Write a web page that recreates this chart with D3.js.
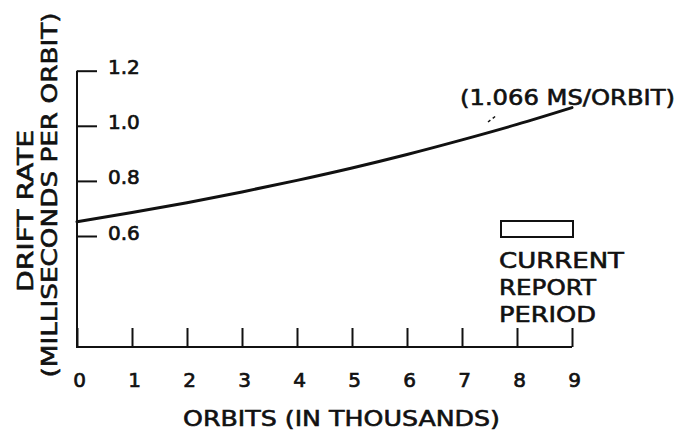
<!DOCTYPE html>
<html>
<head>
<meta charset="utf-8">
<script src="https://cdn.jsdelivr.net/npm/d3@7"></script>
<style>
  html, body { margin: 0; padding: 0; background: #fff; }
  svg { display: block; }
  text { font-family: "DejaVu Sans", sans-serif; font-weight: normal; fill: #111; stroke: #111; stroke-width: 0.6px; }
</style>
</head>
<body>
<svg id="chart" width="684" height="438"></svg>
<script>
// Drift rate of the clock versus accumulated orbits
const orbits = [0, 1, 2, 3, 4, 5, 6, 7, 8, 9];
const driftRate = [0.652, 0.685, 0.721, 0.760, 0.802, 0.847, 0.896, 0.949, 1.005, 1.066];

const xTicks = [0, 1, 2, 3, 4, 5, 6, 7, 8, 9];
const yTicks = [0.6, 0.8, 1.0, 1.2];
const yTickLabels = ["0.6", "0.8", "1.0", "1.2"];

const xTitle = "ORBITS (IN THOUSANDS)";
const yTitle = ["DRIFT RATE", "(MILLISECONDS PER ORBIT)"];
const legendLines = ["CURRENT", "REPORT", "PERIOD"];
const latestRate = driftRate[driftRate.length - 1];
const note = "(" + latestRate.toFixed(3) + " MS/ORBIT)";

const svg = d3.select("#chart");
const ink = "#111";

const x = d3.scaleLinear().domain([0, 9]).range([77, 572]);
const y = d3.scaleLinear().domain([0.6, 1.2]).range([236, 70.7]);
const baseY = 347;

// axis lines: the vertical scale is broken, so its line runs down to the baseline
svg.append("line").attr("x1", x(0)).attr("x2", x(0))
  .attr("y1", y(1.2)).attr("y2", baseY)
  .attr("stroke", ink).attr("stroke-width", 2);
svg.append("line").attr("x1", x(0) - 1).attr("x2", x(9))
  .attr("y1", baseY).attr("y2", baseY)
  .attr("stroke", ink).attr("stroke-width", 2);

function styleTickText(sel) {
  sel.attr("dy", null)
    .style("font-size", "20px").style("font-family", "DejaVu Sans, sans-serif")
    .style("font-weight", "normal").style("stroke", ink).style("stroke-width", "0.7px")
    .attr("fill", ink);
}

// y ticks pointing inward, labels to the right
const yAxis = d3.axisRight(y).tickValues(yTicks)
  .tickFormat((d, i) => yTickLabels[i]).tickSize(20);
const gy = svg.append("g").attr("transform", `translate(${x(0)},0)`).call(yAxis);
gy.select(".domain").remove();
gy.selectAll(".tick line").attr("stroke", ink).attr("stroke-width", 2);
gy.selectAll(".tick text").call(styleTickText).attr("x", 31).attr("y", 3);

// x ticks pointing upward from the baseline, labels below
const xAxis = d3.axisBottom(x).tickValues(xTicks)
  .tickFormat(d3.format("d")).tickSize(-19);
const gx = svg.append("g").attr("transform", `translate(0,${baseY})`).call(xAxis);
gx.select(".domain").remove();
gx.selectAll(".tick line").attr("stroke", ink).attr("stroke-width", 2);
gx.selectAll(".tick text").call(styleTickText).attr("y", 40).attr("dx", 2);

// drift-rate curve
const line = d3.line()
  .x((d, i) => x(orbits[i]))
  .y(d => y(d))
  .curve(d3.curveMonotoneX);
svg.append("path").datum(driftRate)
  .attr("d", line)
  .attr("fill", "none").attr("stroke", ink).attr("stroke-width", 3)
  .attr("stroke-linecap", "round");

// axis titles
svg.append("text").attr("x", 183).attr("y", 426)
  .attr("textLength", 317).attr("lengthAdjust", "spacingAndGlyphs")
  .style("font-size", "21px").text(xTitle);
svg.append("text").attr("transform", "translate(33,211) rotate(-90)")
  .attr("text-anchor", "middle")
  .attr("textLength", 162).attr("lengthAdjust", "spacingAndGlyphs")
  .style("font-size", "22px").text(yTitle[0]);
svg.append("text").attr("transform", "translate(57,195) rotate(-90)")
  .attr("text-anchor", "middle")
  .attr("textLength", 365).attr("lengthAdjust", "spacingAndGlyphs")
  .style("font-size", "22px").text(yTitle[1]);

// value annotation with dashed leader
svg.append("text").attr("x", 460).attr("y", 105)
  .attr("textLength", 215).attr("lengthAdjust", "spacingAndGlyphs")
  .style("font-size", "21px").text(note);
svg.append("line").attr("x1", 488).attr("y1", 122).attr("x2", 497).attr("y2", 115)
  .attr("stroke", ink).attr("stroke-width", 1.5).attr("stroke-dasharray", "3,3");

// legend: open box for the current report period
svg.append("rect").attr("x", 501).attr("y", 221).attr("width", 72).attr("height", 16)
  .attr("fill", "none").attr("stroke", ink).attr("stroke-width", 2);
const legendWidths = [125, 97, 97];
legendLines.forEach((t, i) => {
  svg.append("text").attr("x", 499).attr("y", 268 + i * 27)
    .attr("textLength", legendWidths[i]).attr("lengthAdjust", "spacingAndGlyphs")
    .style("font-size", "21px").text(t);
});
</script>
</body>
</html>
